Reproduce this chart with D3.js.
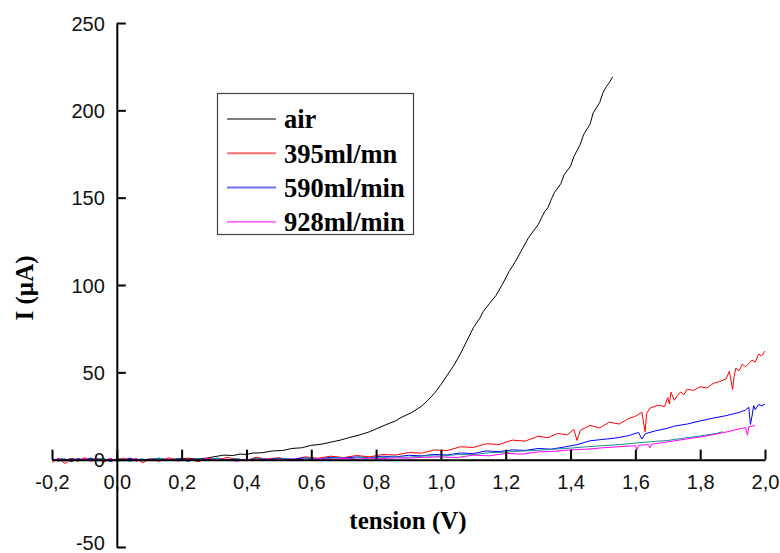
<!DOCTYPE html>
<html><head><meta charset="utf-8">
<script src="https://cdn.jsdelivr.net/npm/d3@7"></script>
<style>html,body{margin:0;padding:0;background:#fff;}svg{display:block;}</style>
</head><body>
<svg id="c" width="780" height="553"></svg>
<script>
// ---- data (tension V, current µA) ----
const xTicks = [-0.2,0,0.2,0.4,0.6,0.8,1.0,1.2,1.4,1.6,1.8,2.0];
const yTicks = [-50,0,50,100,150,200,250];
const seriesNames = ["air","395ml/mn","590ml/min","928ml/min"];

const air = [[-0.2,0.3],[-0.17,-0.5],[-0.14,0.6],[-0.11,-0.2],[-0.08,0.4],[-0.05,-0.7],[-0.02,0.2],[0.01,-0.4],[0.04,0.5],[0.07,-0.2],[0.1,0.3],[0.13,0.6],[0.16,-0.1],[0.19,0.5],[0.22,0.8],[0.25,0.3],[0.28,1.0],[0.31,2.0],[0.33,2.6],[0.36,2.4],[0.38,3.2],[0.4,3.0],[0.42,3.8],[0.45,4.0],[0.48,5.0],[0.51,5.2],[0.54,6.4],[0.57,6.8],[0.6,8.2],[0.63,8.8],[0.66,10.0],[0.69,11.2],[0.72,12.8],[0.75,14.2],[0.78,16.0],[0.8,17.6],[0.83,20.0],[0.86,22.2],[0.88,24.4],[0.91,27.0],[0.94,30.6],[0.96,34.0],[0.98,38.0],[1.0,43.0],[1.02,48.5],[1.04,54.0],[1.06,60.5],[1.08,68.0],[1.1,75.5],[1.12,81.0],[1.13,84.6],[1.15,89.5],[1.17,94.0],[1.19,100.5],[1.21,107.6],[1.23,113.5],[1.25,120.2],[1.27,127.0],[1.3,134.5],[1.32,142.0],[1.33,144.2],[1.34,148.8],[1.35,152.8],[1.37,158.0],[1.38,163.1],[1.4,168.0],[1.41,173.4],[1.43,180.5],[1.44,186.0],[1.46,192.0],[1.47,198.6],[1.49,204.5],[1.5,210.1],[1.51,213.5],[1.52,216.0],[1.53,219.2]];

const red395 = [[-0.2,-1.5],[-0.18,0.8],[-0.16,-2.2],[-0.14,0.5],[-0.12,-1.0],[-0.1,1.2],[-0.08,-0.6],[-0.06,0.9],[-0.04,-1.4],[-0.02,0.3],[0,-0.8],[0.02,1.0],[0.04,-0.5],[0.06,0.6],[0.08,-1.8],[0.1,0.4],[0.13,-0.9],[0.16,1.1],[0.19,-0.3],[0.22,0.7],[0.25,-1.2],[0.28,0.9],[0.31,-0.4],[0.34,1.3],[0.37,0.2],[0.4,-0.6],[0.43,1.4],[0.46,0.3],[0.5,1.1],[0.54,-0.2],[0.58,1.6],[0.62,0.8],[0.66,2.0],[0.7,1.2],[0.74,2.4],[0.78,1.6],[0.82,3.0],[0.86,2.6],[0.9,4.1],[0.94,3.7],[0.98,5.6],[1.02,5.2],[1.06,7.4],[1.1,7.0],[1.14,9.1],[1.18,8.7],[1.22,11.2],[1.26,10.6],[1.3,13.4],[1.33,12.6],[1.36,15.0],[1.39,14.2],[1.41,17.4],[1.42,11.0],[1.43,16.8],[1.46,19.6],[1.49,18.2],[1.52,21.5],[1.55,20.4],[1.58,23.6],[1.6,24.8],[1.62,27.2],[1.63,16.0],[1.635,26.5],[1.645,29.5],[1.67,31.2],[1.69,30.4],[1.7,35.5],[1.705,31.8],[1.71,38.6],[1.72,34.0],[1.73,36.8],[1.74,38.8],[1.75,37.2],[1.76,40.4],[1.78,39.6],[1.8,41.8],[1.82,41.0],[1.84,43.6],[1.86,44.8],[1.88,46.2],[1.89,50.6],[1.9,40.2],[1.905,48.0],[1.91,52.4],[1.92,50.8],[1.93,54.6],[1.94,53.2],[1.96,57.0],[1.97,55.8],[1.98,60.5],[1.99,59.4],[2.0,62.2]];

const blue590 = [[-0.2,0.6],[-0.18,-0.9],[-0.16,0.4],[-0.14,-1.2],[-0.12,0.7],[-0.1,-0.4],[-0.08,1.0],[-0.06,-0.7],[-0.04,0.5],[-0.02,-1.1],[0,0.2],[0.02,-0.5],[0.04,0.9],[0.06,-0.8],[0.08,0.3],[0.1,-0.6],[0.13,0.8],[0.16,-0.3],[0.19,0.5],[0.22,-0.9],[0.25,0.6],[0.28,-0.2],[0.31,0.9],[0.34,-0.5],[0.37,0.4],[0.4,-0.3],[0.43,0.7],[0.46,-0.1],[0.5,0.8],[0.54,0.2],[0.58,1.0],[0.62,0.4],[0.66,1.3],[0.7,0.8],[0.74,1.6],[0.78,1.1],[0.82,2.0],[0.86,1.6],[0.9,2.5],[0.94,2.2],[0.98,3.0],[1.02,2.7],[1.06,3.8],[1.1,3.5],[1.14,5.0],[1.18,4.6],[1.22,5.6],[1.26,5.3],[1.3,6.4],[1.34,6.0],[1.38,7.2],[1.42,8.6],[1.46,10.8],[1.5,11.6],[1.54,12.4],[1.58,13.8],[1.61,15.6],[1.62,11.8],[1.63,14.8],[1.66,16.4],[1.7,18.0],[1.72,19.2],[1.76,20.4],[1.8,22.2],[1.84,23.8],[1.88,25.2],[1.92,27.0],[1.94,28.4],[1.95,30.0],[1.955,20.2],[1.96,25.0],[1.965,31.0],[1.97,28.6],[1.98,31.6],[1.99,30.8],[2.0,31.8]];

const teal = [[-0.2,-0.4],[-0.17,0.7],[-0.14,-0.9],[-0.11,0.3],[-0.08,-0.5],[-0.05,0.8],[-0.02,-0.3],[0.01,0.6],[0.04,-1.0],[0.07,0.4],[0.1,-0.2],[0.13,0.9],[0.16,-0.6],[0.19,0.3],[0.22,-0.8],[0.25,0.6],[0.28,-0.4],[0.31,0.8],[0.34,-0.2],[0.37,0.5],[0.4,-0.5],[0.44,0.9],[0.48,0.1],[0.52,0.7],[0.56,-0.1],[0.6,0.9],[0.64,0.4],[0.68,1.1],[0.72,0.6],[0.76,1.3],[0.8,0.9],[0.85,1.6],[0.9,1.4],[0.95,2.2],[1.0,2.1],[1.05,2.9],[1.1,2.8],[1.15,4.0],[1.2,4.3],[1.25,4.9],[1.3,5.4],[1.35,6.0],[1.4,6.6],[1.45,7.4],[1.5,8.0],[1.55,8.6],[1.6,9.5],[1.65,10.3],[1.7,11.0],[1.75,12.3],[1.8,13.6],[1.85,15.0],[1.87,16.0]];

const mag928 = [[-0.2,-0.2],[-0.18,0.5],[-0.16,-0.8],[-0.14,0.2],[-0.12,-0.4],[-0.1,0.6],[-0.08,-0.9],[-0.06,0.1],[-0.04,-0.3],[-0.02,0.7],[0,-0.6],[0.02,0.3],[0.04,-0.2],[0.06,0.5],[0.08,-0.7],[0.1,0.2],[0.13,-0.5],[0.16,0.4],[0.19,-0.8],[0.22,0.1],[0.25,-0.4],[0.28,0.6],[0.31,-0.6],[0.34,0.2],[0.37,-0.9],[0.4,0.3],[0.43,-0.3],[0.46,0.5],[0.5,-0.4],[0.54,0.4],[0.58,-0.2],[0.62,0.6],[0.66,0.1],[0.7,0.7],[0.74,0.2],[0.78,0.9],[0.82,0.6],[0.86,1.0],[0.9,0.9],[0.95,1.4],[1.0,1.6],[1.05,1.2],[1.1,2.6],[1.15,2.2],[1.2,3.6],[1.25,3.2],[1.3,4.4],[1.35,4.8],[1.4,5.6],[1.45,6.0],[1.5,6.8],[1.55,7.4],[1.6,8.0],[1.605,5.6],[1.61,8.2],[1.64,8.6],[1.645,6.8],[1.65,8.8],[1.7,10.2],[1.75,11.6],[1.8,13.0],[1.84,14.3],[1.88,15.8],[1.92,17.6],[1.94,18.3],[1.946,14.0],[1.95,18.8],[1.969,19.5]];

// ---- drawing ----
const svg = d3.select("#c");
const x = d3.scaleLinear().domain([-0.2, 2.0]).range([52, 765]);
const y = d3.scaleLinear().domain([-50, 250]).range([547, 23]);
const line = d3.line().x(d => x(d[0])).y(d => y(d[1]));

const series = [
  {data: air, color: "#000000"},
  {data: red395, color: "#ff0000"},
  {data: blue590, color: "#0000ff"},
  {data: teal, color: "#1a9090"},
  {data: mag928, color: "#ff00ff"}
];
svg.append("g").selectAll("path").data(series).join("path")
  .attr("d", s => line(s.data))
  .attr("fill", "none")
  .attr("stroke", s => s.color)
  .attr("stroke-width", 1)
  .attr("stroke-linejoin", "round");

const fmtX = v => v.toFixed(1).replace(".", ",");
const xAxis = d3.axisBottom(x).tickValues(xTicks).tickFormat(fmtX)
  .tickSizeInner(-10).tickSizeOuter(0).tickPadding(15);
const gx = svg.append("g").attr("transform", `translate(0,${y(0)})`).call(xAxis);

const yAxis = d3.axisLeft(y).tickValues(yTicks).tickFormat(d => String(d))
  .tickSizeInner(-9).tickSizeOuter(0).tickPadding(12);
const gy = svg.append("g").attr("transform", `translate(${x(0)},0)`).call(yAxis);

[gx, gy].forEach(g => {
  g.select(".domain").attr("stroke", "#000").attr("stroke-width", 2);
  g.selectAll(".tick line").attr("stroke", "#000").attr("stroke-width", 2);
  g.selectAll(".tick text").attr("font-family", "'Liberation Sans', Arial, sans-serif")
    .attr("font-size", 20).attr("fill", "#111");
});
gy.selectAll(".tick text").attr("dy", d => d === -50 ? "0.1em" : "0.35em");

// axis titles
svg.append("text").attr("x", 408).attr("y", 529).attr("text-anchor", "middle")
  .attr("font-family", "'Liberation Serif', 'Times New Roman', serif")
  .attr("font-weight", "bold").attr("font-size", 25).text("tension (V)");
svg.append("text").attr("transform", "translate(33,288) rotate(-90)")
  .attr("text-anchor", "middle")
  .attr("font-family", "'Liberation Serif', 'Times New Roman', serif")
  .attr("font-weight", "bold").attr("font-size", 25).text("I (µA)");

// legend
const legendColors = ["#000000", "#ff7070", "#7070ff", "#ff00ff"];
const lg = svg.append("g");
lg.append("rect").attr("x", 217.5).attr("y", 93.5).attr("width", 196).attr("height", 141)
  .attr("fill", "#fff").attr("stroke", "#444").attr("stroke-width", 1.2);
const rows = lg.selectAll("g.row").data(seriesNames).join("g")
  .attr("transform", (d, i) => `translate(0,${119 + i * 34.3})`);
rows.append("line").attr("x1", 227).attr("x2", 276)
  .attr("stroke", (d, i) => legendColors[i]).attr("stroke-width", (d, i) => i === 0 || i === 3 ? 1 : 2);
rows.append("text").attr("x", 284).attr("dy", "0.35em")
  .attr("font-family", "'Liberation Serif', 'Times New Roman', serif")
  .attr("font-weight", "bold").attr("font-size", 26.5).text(d => d);
</script>
</body></html>
